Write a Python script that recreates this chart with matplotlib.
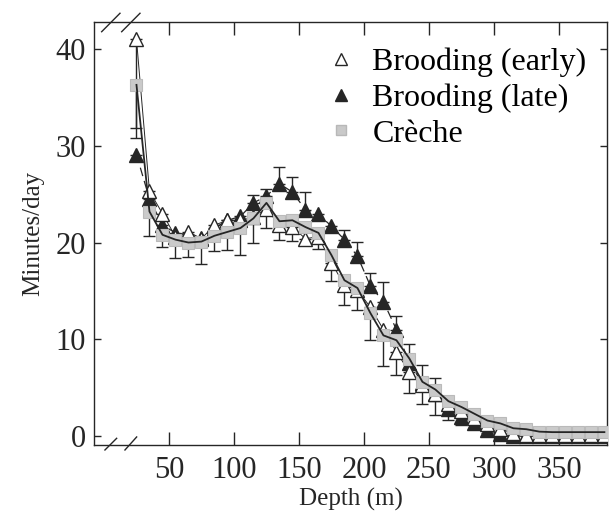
import numpy as np
import matplotlib
matplotlib.use('Agg')
import matplotlib.pyplot as plt
from matplotlib.lines import Line2D

# 字体：Times 风格
plt.rcParams['font.family'] = ['Liberation Serif', 'DejaVu Serif']

# 深度 (m)
depth = list(range(25, 386, 10))

# Brooding (early) 空心三角
early = [41.0, 25.3, 23.0, 20.6, 21.1, 20.4, 21.8, 22.3, 22.3, 22.6,
         23.5, 21.8, 21.6, 20.4, 20.6, 17.9, 15.6, 15.1, 13.3, 11.0,
         8.7, 6.6, 5.3, 4.3, 3.3, 2.6, 1.9, 1.2, 0.7, 0.3,
         0.1, 0.1, 0.1, 0.1, 0.1, 0.1, 0.1]

# Brooding (late) 实心三角
late = [29.1, 24.5, 21.8, 21.0, 20.8, 20.5, 21.5, 22.3, 22.7, 24.1,
        24.8, 26.1, 25.2, 23.4, 22.9, 21.7, 20.3, 18.6, 15.5, 13.9,
        11.0, 7.5, 5.5, 4.3, 2.8, 2.0, 1.3, 0.6, 0.2, 0.0,
        0.0, 0.0, 0.0, 0.0, 0.0, 0.0, 0.0]

# Crèche 灰色方块
creche = [36.3, 23.2, 20.8, 20.3, 20.0, 20.1, 20.7, 21.1, 21.5, 22.5,
          24.1, 22.2, 22.3, 21.6, 21.0, 18.7, 16.1, 15.3, 12.7, 10.4,
          9.9, 8.0, 5.6, 4.8, 3.6, 3.0, 2.3, 1.6, 1.3, 0.8,
          0.7, 0.45, 0.4, 0.4, 0.4, 0.4, 0.4]

nan = np.nan
# 误差线端点 (cap 的位置)
early_lo = [31.8] + [nan] * 36
late_hi = [nan, nan, nan, nan, nan, nan, nan, nan, nan, 24.9,
           25.5, 27.8, 26.8, 25.2, nan, nan, 21.3, 20.1, 16.8, 15.9,
           12.4, nan, nan, nan, nan, nan, nan, nan, nan, nan,
           nan, nan, nan, nan, nan, nan, nan]
creche_lo = [30.8, 20.7, 19.5, 18.4, 18.5, 17.8, 19.1, 19.2, 18.7, 20.0,
             21.5, 20.3, 20.2, 19.8, 19.3, 16.0, 13.5, 13.0, 9.9, 7.2,
             6.3, 4.4, 3.3, 2.2, 1.65, 1.1, 0.7, 0.3, nan, nan,
             nan, nan, nan, nan, nan, nan, nan]
creche_hi = [nan] * 21 + [9.5, 7.3, 6.0] + [nan] * 13

x = np.array(depth)
e = np.array(early)
l = np.array(late)
c = np.array(creche)

ink = '#262626'

fig = plt.figure(figsize=(6.13, 5.27), dpi=100)
ax = fig.add_axes([0.1533, 0.1556, 0.8369, 0.8027])

# 误差线
cap_kw = dict(fmt='none', ecolor=ink, elinewidth=1.0, capsize=4.5, capthick=1.0, zorder=2)
ax.errorbar(x, c, yerr=[c - np.array(creche_lo), np.zeros_like(c)], **cap_kw)
ax.errorbar(x, c, yerr=[np.zeros_like(c), np.array(creche_hi) - c], **cap_kw)
ax.errorbar(x, e, yerr=[e - np.array(early_lo), np.zeros_like(e)], **cap_kw)
ax.errorbar(x, l, yerr=[np.zeros_like(l), np.array(late_hi) - l], **cap_kw)

# Brooding (late) —— 最底层
ax.plot(x, l, '--', color=ink, lw=0.9, dashes=(7, 4), zorder=3)
ax.plot(x, l, '^', ms=10, mfc=ink, mec=ink, zorder=3)
# Brooding (early)
ax.plot(x, e, '-', color=ink, lw=0.7, zorder=4)
ax.plot(x, e, '^', ms=10, mfc='white', mec=ink, mew=1.0, zorder=4)
# Crèche
ax.plot(x, c, 's', ms=9, mfc='#cacaca', mec='#bababa', mew=0.8, zorder=5)
ax.plot(x, c, '-', color=ink, lw=1.3, zorder=6)

ax.set_xlim(-7.7, 387)
ax.set_ylim(-0.93, 42.8)
ax.set_xticks([50, 100, 150, 200, 250, 300, 350])
ax.set_yticks([0, 10, 20, 30, 40])
ax.tick_params(axis='x', direction='in', length=9.5, width=1.0, top=True,
               labelsize=22, pad=8, colors=ink)
ax.tick_params(axis='y', direction='in', length=5, width=1.0, right=True,
               labelsize=22, pad=6, colors=ink)
for s in ax.spines.values():
    s.set_color(ink)
    s.set_linewidth(1.0)

ax.set_xlabel('Depth (m)', fontsize=18, labelpad=2, color=ink)
ax.set_ylabel('Minutes/day', fontsize=18, labelpad=8, color=ink)

# 断轴标记 //
brk = dict(color=ink, lw=1.0, transform=ax.transAxes, clip_on=False)
ax.plot([0.015, 0.0507], [0.977, 1.0206], **brk)
ax.plot([0.054, 0.0897], [0.977, 1.0206], **brk)
ax.plot([0.0214, 0.0442], [-0.0118, 0.0158], **brk)
ax.plot([0.0604, 0.0832], [-0.0118, 0.019], **brk)

# 图例
handles = [
    Line2D([], [], ls='none', marker='^', ms=8, mfc='white', mec=ink, mew=1.0),
    Line2D([], [], ls='none', marker='^', ms=8, mfc=ink, mec=ink),
    Line2D([], [], ls='none', marker='s', ms=7, mfc='#c9c9c9', mec='#b8b8b8'),
]
ax.legend(handles, ['Brooding (early)', 'Brooding (late)', 'Crèche'],
          loc='upper right', bbox_to_anchor=(0.985, 0.97), frameon=False,
          fontsize=23, handlelength=1.0, handletextpad=0.48, labelspacing=0.2,
          borderaxespad=0.0)

fig.savefig('out.png', dpi=100)
